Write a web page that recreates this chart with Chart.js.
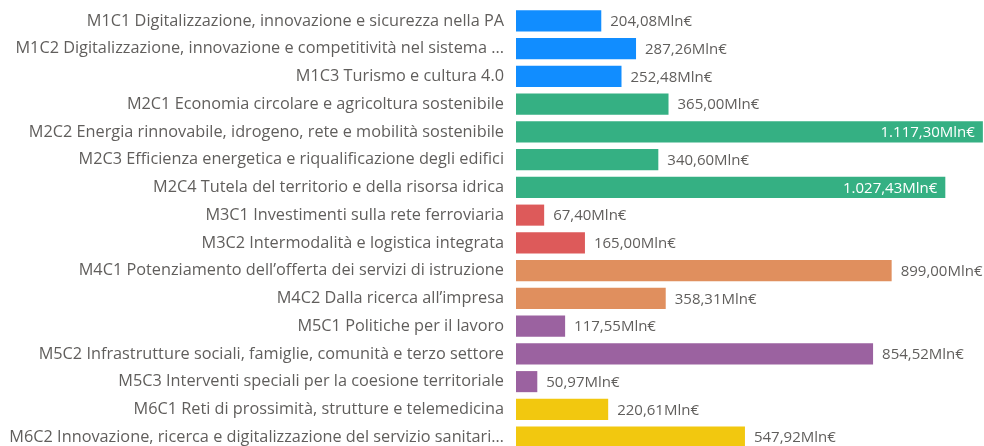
<!DOCTYPE html>
<html>
<head>
<meta charset="utf-8">
<script src="https://cdn.jsdelivr.net/npm/chart.js@4"></script>
<style>
  html, body { margin: 0; padding: 0; background: #fff; overflow: hidden; }
  canvas { display: block; }
</style>
</head>
<body>
<canvas id="grafico" width="984" height="451"></canvas>
<script>
const categorie = [
    "M1C1 Digitalizzazione, innovazione e sicurezza nella PA",
    "M1C2 Digitalizzazione, innovazione e competitività nel sistema ...",
    "M1C3 Turismo e cultura 4.0",
    "M2C1 Economia circolare e agricoltura sostenibile",
    "M2C2 Energia rinnovabile, idrogeno, rete e mobilità sostenibile",
    "M2C3 Efficienza energetica e riqualificazione degli edifici",
    "M2C4 Tutela del territorio e della risorsa idrica",
    "M3C1 Investimenti sulla rete ferroviaria",
    "M3C2 Intermodalità e logistica integrata",
    "M4C1 Potenziamento dell’offerta dei servizi di istruzione",
    "M4C2 Dalla ricerca all’impresa",
    "M5C1 Politiche per il lavoro",
    "M5C2 Infrastrutture sociali, famiglie, comunità e terzo settore",
    "M5C3 Interventi speciali per la coesione territoriale",
    "M6C1 Reti di prossimità, strutture e telemedicina",
    "M6C2 Innovazione, ricerca e digitalizzazione del servizio sanitari…"
]
const valori = [204.08, 287.26, 252.48, 365.00, 1117.30, 340.60, 1027.43, 67.40, 165.00, 899.00, 358.31, 117.55, 854.52, 50.97, 220.61, 547.92]
const missioni = ["M1", "M1", "M1", "M2", "M2", "M2", "M2", "M3", "M3", "M4", "M4", "M5", "M5", "M5", "M6", "M6"]
const coloriMissione = {
    M1: "#118DFF",
    M2: "#35B083",
    M3: "#DD5A5A",
    M4: "#E08F5E",
    M5: "#9B62A0",
    M6: "#F2C80F"
}

const grigio = "#605E5C"
const font = '"Segoe UI", "Open Sans", sans-serif'

// formato italiano: 1.117,30
function formatta(v) {
    let parti = v.toFixed(2).split(".")
    parti[0] = parti[0].replace(/\B(?=(\d{3})+(?!\d))/g, ".")
    return parti[0] + "," + parti[1] + "Mln€"
}

const etichette = {
    id: "etichette",
    afterDatasetsDraw(chart) {
        const ctx = chart.ctx
        const meta = chart.getDatasetMeta(0)
        const area = chart.chartArea
        ctx.save()
        ctx.font = "15px " + font
        ctx.textBaseline = "middle"
        meta.data.forEach((bar, i) => {
            const testo = formatta(valori[i])
            const w = ctx.measureText(testo).width
            if (bar.x + 9 + w <= area.right) {
                ctx.fillStyle = grigio
                ctx.textAlign = "left"
                ctx.fillText(testo, bar.x + 9, bar.y + 1)
            } else {
                ctx.fillStyle = "#ffffff"
                ctx.textAlign = "right"
                ctx.fillText(testo, bar.x - 8, bar.y + 1)
            }
        })
        ctx.restore()
    }
}

const ctx = document.getElementById("grafico").getContext("2d")
new Chart(ctx, {
    type: "bar",
    data: {
        labels: categorie,
        datasets: [{
            data: valori,
            backgroundColor: missioni.map(m => coloriMissione[m]),
            borderWidth: 0,
            categoryPercentage: 1,
            barPercentage: 0.76
        }]
    },
    options: {
        indexAxis: "y",
        responsive: false,
        animation: false,
        layout: { padding: { top: 7, right: 0, bottom: 0, left: 0 } },
        plugins: {
            legend: { display: false },
            tooltip: { enabled: false }
        },
        scales: {
            x: {
                display: false,
                min: 0,
                max: 1120
            },
            y: {
                grid: { display: false, drawTicks: false },
                border: { display: false },
                ticks: {
                    color: grigio,
                    padding: 12,
                    autoSkip: false,
                    font: { family: font, size: 16.3 }
                },
                afterFit(scale) {
                    scale.width = 516
                    scale.paddingTop = 0
                    scale.paddingBottom = 0
                }
            }
        }
    },
    plugins: [etichette]
})
</script>
</body>
</html>
